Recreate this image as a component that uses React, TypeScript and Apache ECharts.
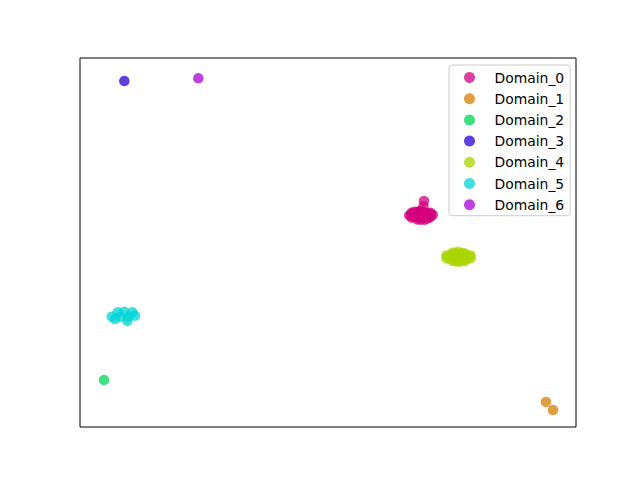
import React, { useEffect, useRef } from "react";
import * as echarts from "echarts";

const domainNames = ["Domain_0", "Domain_1", "Domain_2", "Domain_3", "Domain_4", "Domain_5", "Domain_6"];
const domainColors = ["#d4007f", "#d47f00", "#00d455", "#2a00d4", "#aad400", "#00d4d4", "#aa00d4"];

const domain0: number[][] = [
  [15.0, 4.5], [14.2, 4.6], [15.8, 4.4], [13.4, 4.5], [16.6, 4.5], [14.6, 4.0], [15.4, 4.1],
  [14.6, 5.0], [15.4, 4.9], [13.8, 4.2], [16.2, 4.8], [13.8, 4.8], [16.2, 4.2], [15.0, 3.7],
  [15.0, 5.1], [14.3, 4.3], [15.7, 4.7], [13.1, 4.4], [16.9, 4.5], [14.0, 5.0], [16.0, 3.9],
  [14.4, 3.75], [15.6, 3.7], [13.5, 4.05], [16.5, 4.1], [13.5, 4.85], [16.5, 4.85], [14.8, 5.1],
  [15.4, 5.9], [15.48, 6.75],
];
const domain1: number[][] = [[35.16, -25.93], [36.29, -27.24]];
const domain2: number[][] = [[-36.13, -22.36]];
const domain3: number[][] = [[-32.85, 26.26]];
const domain4: number[][] = [
  [21.05, -2.36], [20.2, -2.3], [21.9, -2.4], [19.3, -2.35], [22.8, -2.3], [20.6, -1.8],
  [21.5, -1.75], [20.6, -2.9], [21.5, -2.95], [19.8, -1.95], [22.3, -2.75], [19.8, -2.75],
  [22.3, -1.95], [21.0, -1.5], [21.1, -3.15], [19.1, -2.6], [23.0, -2.1], [20.2, -1.65],
  [22.0, -3.05], [19.1, -2.1], [23.0, -2.6], [20.2, -3.05], [21.9, -1.7], [20.6, -2.4],
];
const domain5: number[][] = [
  [-33.92, -11.35], [-32.85, -11.25], [-31.56, -11.35], [-34.89, -12.07], [-33.55, -12.07],
  [-32.21, -12.07], [-31.13, -11.9], [-34.35, -12.44], [-32.37, -12.76],
];
const domain6: number[][] = [[-20.92, 26.7]];

const domainData = [domain0, domain1, domain2, domain3, domain4, domain5, domain6];

const xMin = -40;
const xMax = 40;
const yMin = -30;
const yMax = 30;

export default function App() {
  const ref = useRef<HTMLDivElement>(null);
  useEffect(() => {
    if (!ref.current) return;
    const chart = echarts.init(ref.current, undefined, { renderer: "svg" });
    chart.setOption({
      animation: false,
      backgroundColor: "#ffffff",
      textStyle: { fontFamily: "DejaVu Sans" },
      grid: {
        left: 80,
        right: 64,
        top: 58,
        bottom: 53,
        show: true,
        borderColor: "#000000",
        borderWidth: 1,
        backgroundColor: "transparent",
      },
      xAxis: {
        type: "value",
        min: xMin,
        max: xMax,
        axisLine: { show: false },
        axisTick: { show: false },
        axisLabel: { show: false },
        splitLine: { show: false },
      },
      yAxis: {
        type: "value",
        min: yMin,
        max: yMax,
        axisLine: { show: false },
        axisTick: { show: false },
        axisLabel: { show: false },
        splitLine: { show: false },
      },
      legend: {
        orient: "vertical",
        left: 449,
        top: 65,
        padding: [5.5, 6, 4, 15],
        itemWidth: 40,
        itemHeight: 11,
        itemGap: 7.2,
        icon: "circle",
        selectedMode: false,
        borderColor: "#cccccc",
        borderWidth: 1,
        borderRadius: 3,
        backgroundColor: "rgba(255,255,255,0.8)",
        textStyle: { fontFamily: "DejaVu Sans", fontSize: 13.9, color: "#000000", lineHeight: 14 },
        data: domainNames,
      },
      series: domainNames.map((name, i) => ({
        name,
        type: "scatter",
        data: domainData[i],
        symbol: "circle",
        symbolSize: 10.5,
        itemStyle: { color: domainColors[i], opacity: 0.75 },
        emphasis: { disabled: true },
      })),
    });
    return () => chart.dispose();
  }, []);
  return <div ref={ref} style={{ width: 640, height: 480, position: "absolute", left: 0, top: 0 }} />;
}
